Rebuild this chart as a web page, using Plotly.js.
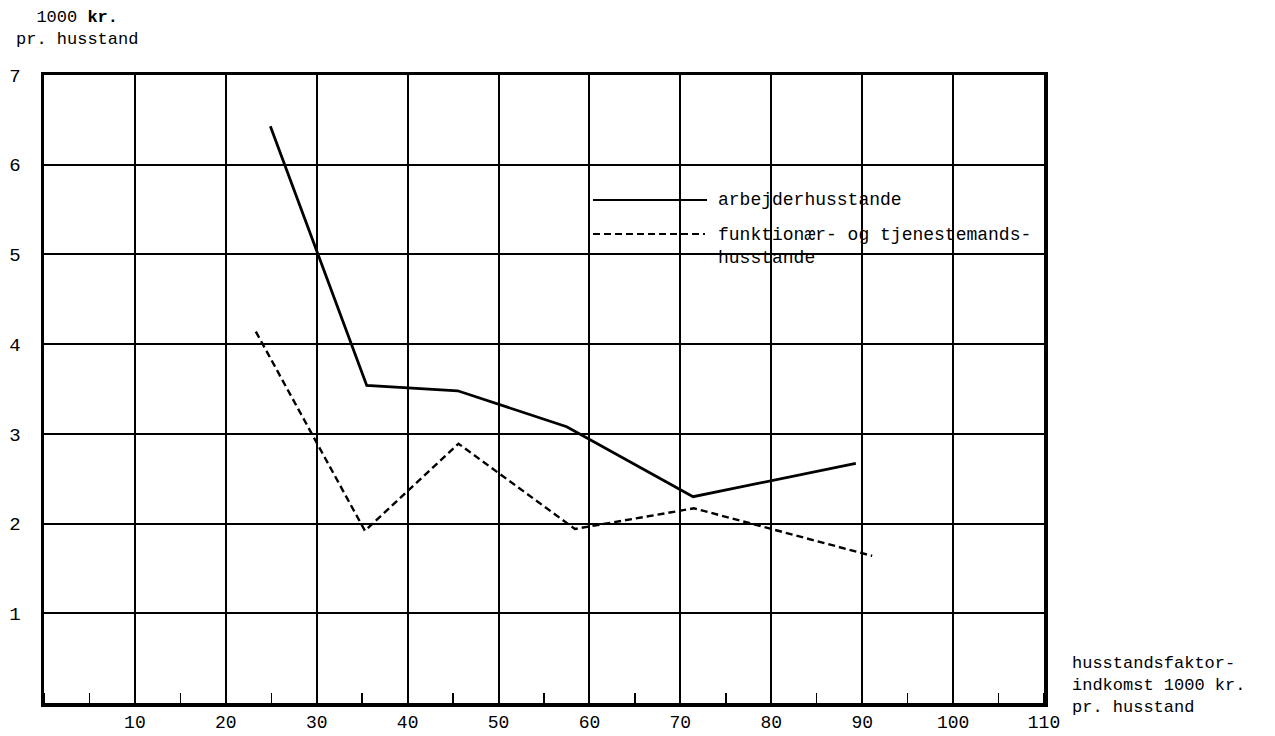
<!DOCTYPE html>
<html>
<head>
<meta charset="utf-8">
<script src="https://cdn.plot.ly/plotly-3.0.1.min.js"></script>
<style>html,body{margin:0;padding:0;background:#fff;}#chart{width:1275px;height:736px;}</style>
</head>
<body>
<div id="chart"></div>
<script>
// Data
var incomeArb = [24.9, 35.5, 45.5, 57.5, 71.4, 89.3];
var valuesArb = [6.43, 3.54, 3.48, 3.08, 2.30, 2.67];
var incomeFunk = [23.3, 35.3, 45.6, 58.4, 71.5, 91.1];
var valuesFunk = [4.14, 1.92, 2.89, 1.94, 2.17, 1.64];
var xTickVals = [10, 20, 30, 40, 50, 60, 70, 80, 90, 100, 110];
var yTickVals = [1, 2, 3, 4, 5, 6, 7];
var nameArb = "arbejderhusstande";
var nameFunk = "funktionær- og tjenestemands-<br>husstande";

var mono = "Liberation Mono, Courier New, monospace";

var traces = [
  {x: incomeArb, y: valuesArb, mode: "lines", name: nameArb,
   line: {color: "#000", width: 2.8}},
  {x: incomeFunk, y: valuesFunk, mode: "lines", name: nameFunk,
   line: {color: "#000", width: 2.4, dash: "7px,4px"}}
];

var layout = {
  width: 1275, height: 736,
  margin: {l: 44, r: 231, t: 75, b: 33},
  paper_bgcolor: "#fff", plot_bgcolor: "#fff",
  showlegend: false,
  font: {family: mono, size: 17, color: "#000"},
  xaxis: {
    range: [0, 110], tickvals: xTickVals, ticks: "", showgrid: true,
    gridcolor: "#000", gridwidth: 2, zeroline: false,
    showline: true, linecolor: "#000", linewidth: 3.5, mirror: true,
    tickfont: {family: mono, size: 18},
    ticklabelstandoff: 0,
    minor: {dtick: 5, tick0: 0, ticks: "inside", ticklen: 10, tickwidth: 1.5, tickcolor: "#000", showgrid: false}
  },
  yaxis: {
    range: [0, 7], tickvals: yTickVals, ticks: "", showgrid: true,
    gridcolor: "#000", gridwidth: 2, zeroline: false,
    showline: true, linecolor: "#000", linewidth: 3.5, mirror: true,
    tickfont: {family: mono, size: 19},
    ticklabelstandoff: 16
  },
  shapes: [
    {type: "line", xref: "paper", yref: "paper", x0: 0.549, x1: 0.663, y0: 0.801, y1: 0.801,
     line: {color: "#000", width: 2}},
    {type: "line", xref: "paper", yref: "paper", x0: 0.549, x1: 0.661, y0: 0.747, y1: 0.747,
     line: {color: "#000", width: 2, dash: "7px,4px"}}
  ],
  annotations: [
    {xref: "paper", yref: "paper", x: 0.672, y: 0.801, xanchor: "left", yanchor: "middle",
     text: nameArb, showarrow: false, align: "left", font: {family: mono, size: 18}},
    {xref: "paper", yref: "paper", x: 0.672, y: 0.727, xanchor: "left", yanchor: "middle",
     text: nameFunk, showarrow: false, align: "left", font: {family: mono, size: 18}},
    {xref: "paper", yref: "paper", x: 0.033, y: 1.074, xanchor: "center", yanchor: "middle",
     text: "1000 <b>kr.</b><br>pr. husstand", showarrow: false, align: "center", font: {family: mono, size: 17}},
    {xref: "paper", yref: "paper", x: 1.026, y: 0.0286, xanchor: "left", yanchor: "middle",
     text: "husstandsfaktor-<br>indkomst 1000 kr.<br>pr. husstand", showarrow: false, align: "left", font: {family: mono, size: 17}}
  ]
};

Plotly.newPlot("chart", traces, layout, {displayModeBar: false, staticPlot: true});
</script>
</body>
</html>
